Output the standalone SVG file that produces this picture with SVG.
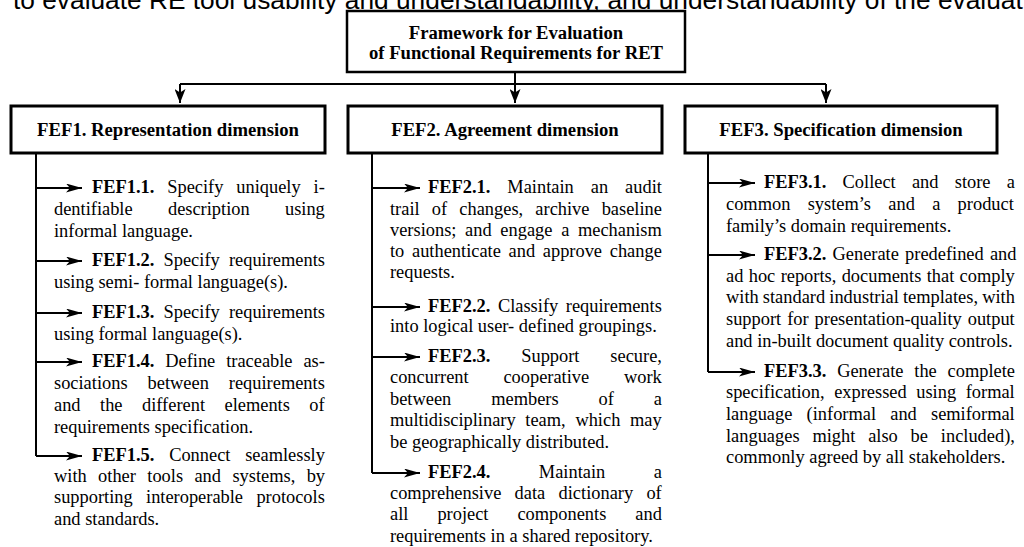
<svg xmlns="http://www.w3.org/2000/svg" width="1024" height="547" viewBox="0 0 1024 547">
  <style>
    .frame { fill: #fff; stroke: #000; stroke-width: 3; }
    .title-frame { fill: #fff; stroke: #000; stroke-width: 2.5; }
    .wire { fill: none; stroke: #000; stroke-width: 2; }
    .body { font-family: "Liberation Serif", "Times New Roman", serif; font-size: 18.4px; fill: #000; }
    .b { font-weight: bold; }
    .head { font-family: "Liberation Serif", "Times New Roman", serif; font-size: 18.7px; font-weight: bold; text-anchor: middle; fill: #000; }
    .caption { font-family: "Liberation Sans", Arial, sans-serif; font-size: 26.3px; fill: #000; }
  </style>
  <defs>
    <marker id="drop" markerUnits="userSpaceOnUse" markerWidth="14" markerHeight="11" refX="14" refY="5.5" orient="auto">
      <path d="M0,0 L14,5.5 L0,11 L3.5,5.5 z" fill="#000"/>
    </marker>
    <marker id="tick" markerUnits="userSpaceOnUse" markerWidth="16" markerHeight="9" refX="16" refY="4.5" orient="auto">
      <path d="M0,0 L16,4.5 L0,9 L4,4.5 z" fill="#000"/>
    </marker>
  </defs>

  <!-- running text line above the figure, cut by the page edge -->
  <text class="caption" x="13" y="9">to evaluate RE tool usability and understandability, and understandability of the evaluat</text>

  <!-- connectors -->
  <g id="connectors" class="wire">
    <path d="M180,84 H826"/>
    <path d="M515,72 V84"/>
    <path d="M180,84 V103" marker-end="url(#drop)"/>
    <path d="M515,84 V103" marker-end="url(#drop)"/>
    <path d="M826,84 V103" marker-end="url(#drop)"/>

    <path d="M36,153 V456"/>
    <path d="M36,188 H82" marker-end="url(#tick)"/>
    <path d="M36,261 H82" marker-end="url(#tick)"/>
    <path d="M36,313 H82" marker-end="url(#tick)"/>
    <path d="M36,362 H82" marker-end="url(#tick)"/>
    <path d="M36,456 H82" marker-end="url(#tick)"/>

    <path d="M372,153 V473"/>
    <path d="M372,188 H420" marker-end="url(#tick)"/>
    <path d="M372,307 H420" marker-end="url(#tick)"/>
    <path d="M372,357 H420" marker-end="url(#tick)"/>
    <path d="M372,473 H420" marker-end="url(#tick)"/>

    <path d="M708,153 V372"/>
    <path d="M708,183 H755" marker-end="url(#tick)"/>
    <path d="M708,255 H755" marker-end="url(#tick)"/>
    <path d="M708,372 H755" marker-end="url(#tick)"/>
  </g>

  <!-- root node -->
  <g id="root">
    <rect class="title-frame" x="347" y="11" width="338" height="61"/>
    <text class="head" x="516" y="39">Framework for Evaluation</text>
    <text class="head" x="516" y="59">of Functional Requirements for RET</text>
  </g>

  <!-- dimension nodes -->
  <g id="fef1">
    <rect class="frame" x="11" y="106" width="314" height="47"/>
    <text class="head" x="168" y="136">FEF1. Representation dimension</text>
  </g>
  <g id="fef2">
    <rect class="frame" x="348" y="106" width="314" height="47"/>
    <text class="head" x="505" y="136">FEF2. Agreement dimension</text>
  </g>
  <g id="fef3">
    <rect class="frame" x="685" y="106" width="312" height="47"/>
    <text class="head" x="841" y="136">FEF3. Specification dimension</text>
  </g>

  <!-- FEF1 items -->
  <g id="fef1-items" class="body">
    <text x="92" y="193" style="word-spacing:8.3px"><tspan class="b">FEF1.1.</tspan> Specify uniquely i-</text>
    <text x="54" y="215" style="word-spacing:30.7px">dentifiable description using</text>
    <text x="54" y="237">informal language.</text>

    <text x="92" y="266" style="word-spacing:4.6px"><tspan class="b">FEF1.2.</tspan> Specify requirements</text>
    <text x="54" y="288">using semi- formal language(s).</text>

    <text x="92" y="318" style="word-spacing:4.6px"><tspan class="b">FEF1.3.</tspan> Specify requirements</text>
    <text x="54" y="340">using formal language(s).</text>

    <text x="92" y="367" style="word-spacing:6.3px"><tspan class="b">FEF1.4.</tspan> Define traceable as-</text>
    <text x="54" y="389" style="word-spacing:15.4px">sociations between requirements</text>
    <text x="54" y="411" style="word-spacing:14.9px">and the different elements of</text>
    <text x="54" y="433">requirements specification.</text>

    <text x="92" y="461" style="word-spacing:10.2px"><tspan class="b">FEF1.5.</tspan> Connect seamlessly</text>
    <text x="54" y="482" style="word-spacing:6.8px">with other tools and systems, by</text>
    <text x="54" y="503" style="word-spacing:8.75px">supporting interoperable protocols</text>
    <text x="54" y="525">and standards.</text>
  </g>

  <!-- FEF2 items -->
  <g id="fef2-items" class="body">
    <text x="428" y="193" style="word-spacing:12.4px"><tspan class="b">FEF2.1.</tspan> Maintain an audit</text>
    <text x="390" y="215" style="word-spacing:7.6px">trail of changes, archive baseline</text>
    <text x="390" y="236" style="word-spacing:4.1px">versions; and engage a mechanism</text>
    <text x="390" y="257" style="word-spacing:3.1px">to authenticate and approve change</text>
    <text x="390" y="278">requests.</text>

    <text x="428" y="312" style="word-spacing:3px"><tspan class="b">FEF2.2.</tspan> Classify requirements</text>
    <text x="390" y="332">into logical user- defined groupings.</text>

    <text x="428" y="362" style="word-spacing:26.3px"><tspan class="b">FEF2.3.</tspan> Support secure,</text>
    <text x="390" y="383" style="word-spacing:30.2px">concurrent cooperative work</text>
    <text x="390" y="405" style="word-spacing:35.3px">between members of a</text>
    <text x="390" y="426" style="word-spacing:5.1px">multidisciplinary team, which may</text>
    <text x="390" y="448">be geographically distributed.</text>

    <text x="428" y="478" style="word-spacing:43.9px"><tspan class="b">FEF2.4.</tspan> Maintain a</text>
    <text x="390" y="499" style="word-spacing:8.7px">comprehensive data dictionary of</text>
    <text x="390" y="520" style="word-spacing:24.4px">all project components and</text>
    <text x="390" y="542">requirements in a shared repository.</text>
  </g>

  <!-- FEF3 items -->
  <g id="fef3-items" class="body">
    <text x="764" y="188" style="word-spacing:11.65px"><tspan class="b">FEF3.1.</tspan> Collect and store a</text>
    <text x="726" y="210" style="word-spacing:12.7px">common system’s and a product</text>
    <text x="726" y="232">family’s domain requirements.</text>

    <text x="764" y="260" style="word-spacing:1.6px"><tspan class="b">FEF3.2.</tspan> Generate predefined and</text>
    <text x="726" y="282" style="word-spacing:0.76px">ad hoc reports, documents that comply</text>
    <text x="726" y="303" style="word-spacing:-0.45px">with standard industrial templates, with</text>
    <text x="726" y="325" style="word-spacing:1.4px">support for presentation-quality output</text>
    <text x="726" y="347">and in-built document quality controls.</text>

    <text x="764" y="377" style="word-spacing:6.2px"><tspan class="b">FEF3.3.</tspan> Generate the complete</text>
    <text x="726" y="398" style="word-spacing:5px">specification, expressed using formal</text>
    <text x="726" y="420" style="word-spacing:9.6px">language (informal and semiformal</text>
    <text x="726" y="442" style="word-spacing:8.25px">languages might also be included),</text>
    <text x="726" y="463">commonly agreed by all stakeholders.</text>
  </g>
</svg>
